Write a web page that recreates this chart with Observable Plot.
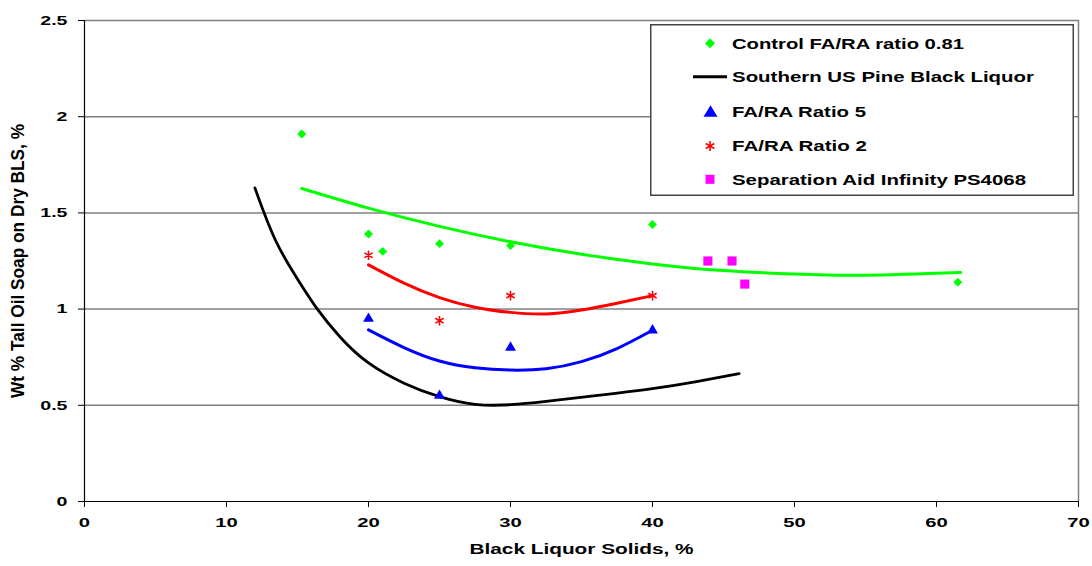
<!DOCTYPE html>
<html><head><meta charset="utf-8">
<script src="https://cdn.jsdelivr.net/npm/d3@7"></script>
<script src="https://cdn.jsdelivr.net/npm/@observablehq/plot@0.6"></script>
<style>
html,body{margin:0;padding:0;background:#fff;}
#wrap{position:relative;width:1092px;height:566px;font-family:"Liberation Sans",Arial,sans-serif;}
#legend{position:absolute;left:650px;top:24px;}
</style></head>
<body><div id="wrap"></div>
<script>
// Scatter series
const controlX = [15.3, 20, 21, 25, 30, 40, 61.5];
const controlY = [1.91, 1.39, 1.30, 1.34, 1.33, 1.44, 1.14];
const ratio5X = [20, 25, 30, 40];
const ratio5Y = [0.95, 0.55, 0.80, 0.89];
const ratio2X = [20, 25, 30, 40];
const ratio2Y = [1.28, 0.94, 1.07, 1.07];
const aidX = [43.9, 45.6, 46.5];
const aidY = [1.25, 1.25, 1.13];
// Fitted curves
const controlFitX = [15.3, 20, 25, 30, 35, 40, 45, 50, 55, 61.7];
const controlFitY = [1.627, 1.525, 1.43, 1.35, 1.285, 1.235, 1.2, 1.182, 1.176, 1.19];
const ratio2FitX = [20, 22.5, 25, 27.5, 30, 32.5, 35, 37.5, 40];
const ratio2FitY = [1.23, 1.135, 1.06, 1.01, 0.983, 0.975, 0.995, 1.03, 1.07];
const ratio5FitX = [20, 22.5, 25, 27.5, 30, 32.5, 35, 37.5, 40];
const ratio5FitY = [0.892, 0.80, 0.73, 0.695, 0.683, 0.69, 0.727, 0.795, 0.89];
const pineX = [12.0, 13.5, 15.2, 16.4, 18, 20, 22.5, 25, 27.5, 30, 32.5, 36, 40, 43, 46.1];
const pineY = [1.63, 1.35, 1.133, 1.0, 0.855, 0.72, 0.615, 0.545, 0.505, 0.503, 0.52, 0.55, 0.587, 0.622, 0.665];
const xTicks = [0, 10, 20, 30, 40, 50, 60, 70];
const yTicks = [0, 0.5, 1, 1.5, 2, 2.5];
const xTitle = "Black Liquor Solids, %";
const yTitle = "Wt % Tall Oil Soap on Dry BLS, %";
const legendLabels = ["Control FA/RA ratio 0.81", "Southern US Pine Black Liquor", "FA/RA Ratio 5", "FA/RA Ratio 2", "Separation Aid Infinity PS4068"];

const zip = (xs, ys) => xs.map((x, i) => ({x, y: ys[i]}));
const FONT = "'Liberation Sans', Arial, sans-serif";

const chart = Plot.plot({
  width: 1092, height: 566,
  marginLeft: 84, marginRight: 14, marginTop: 20, marginBottom: 65,
  style: {fontFamily: FONT, background: "#fff"},
  x: {domain: [0, 70], ticks: xTicks, label: null},
  y: {domain: [0, 2.5], ticks: yTicks, label: null},
  marks: [
    Plot.ruleY(yTicks.filter(d => d > 0), {stroke: "#808080", strokeWidth: 1.5}),
    Plot.ruleX([70], {stroke: "#808080", strokeWidth: 1.5}),
    Plot.ruleX([0], {stroke: "#000", strokeWidth: 1.2}),
    Plot.ruleY([0], {stroke: "#000", strokeWidth: 1.2}),
    Plot.axisY({ticks: yTicks, tickSize: 6, tickPadding: 11, tickFormat: d => String(d), fontSize: 13.5, fontWeight: "bold", stroke: "#000", fill: "#000", label: null}),
    Plot.axisX({ticks: xTicks, tickSize: 6, tickPadding: 10, fontSize: 13.5, fontWeight: "bold", fill: "#000", stroke: "#000", label: null}),
    Plot.text([xTitle], {frameAnchor: "bottom", dy: 52, fontSize: 14, fontWeight: "bold", fill: "#000"}),
    Plot.text([yTitle], {frameAnchor: "left", dx: -66, rotate: -90, textAnchor: "middle", fontSize: 14, fontWeight: "bold", fill: "#000"}),
    Plot.line(zip(pineX, pineY), {x: "x", y: "y", stroke: "#000", strokeWidth: 2.8, curve: "natural"}),
    Plot.line(zip(controlFitX, controlFitY), {x: "x", y: "y", stroke: "#00ff00", strokeWidth: 3, curve: "natural"}),
    Plot.line(zip(ratio2FitX, ratio2FitY), {x: "x", y: "y", stroke: "#ff0000", strokeWidth: 3, curve: "natural"}),
    Plot.line(zip(ratio5FitX, ratio5FitY), {x: "x", y: "y", stroke: "#0000ff", strokeWidth: 3, curve: "natural"}),
    Plot.dot(zip(controlX, controlY), {x: "x", y: "y", symbol: "diamond2", r: 4, fill: "#00ff00", stroke: "none"}),
    Plot.dot(zip(ratio5X, ratio5Y), {x: "x", y: "y", symbol: "triangle2", r: 5.2, fill: "#0000ff", stroke: "none"}),
    Plot.dot(zip(ratio2X, ratio2Y), {x: "x", y: "y", symbol: "asterisk", r: 4.5, stroke: "#ff0000", strokeWidth: 1.5, fill: "none"}),
    Plot.dot(zip(aidX, aidY), {x: "x", y: "y", symbol: "square2", r: 5.8, fill: "#ff00ff", stroke: "none"})
  ]
});
const wrap = document.getElementById("wrap");
wrap.appendChild(chart);

// Reference glyphs are horizontally wide: stretch tick labels about their anchor
function stretch(el, sx, sy) {
  const t = el.getAttribute("transform") || "";
  el.setAttribute("transform", `${t} scale(${sx},${sy})`);
}
d3.select(chart).selectAll("text").each(function() {
  const txt = this.textContent;
  const lab = (this.parentNode.getAttribute && this.parentNode.getAttribute("aria-label")) || "";
  if (txt === xTitle) {
    d3.select(this).attr("textLength", 224).attr("lengthAdjust", "spacingAndGlyphs");
  } else if (txt === yTitle) {
    d3.select(this).attr("textLength", 274).attr("lengthAdjust", "spacingAndGlyphs");
    stretch(this, 1, 1.3);
  } else if (lab.includes("y-axis tick label")) {
    stretch(this, 1.45, 1);
  } else if (lab.includes("x-axis tick label")) {
    stretch(this, 1.5, 1);
  }
});

// Legend (overlaid SVG box inside the plot area)
const lw = 424, lh = 172;
const rowsY = [19.3, 52.7, 87.7, 122, 155.3];
const textX = 82;
const textLens = [232, 302, 134, 135, 294];
const leg = d3.select(wrap).append("svg").attr("id", "legend").attr("width", lw).attr("height", lh);
leg.append("rect").attr("x", 0.75).attr("y", 0.75).attr("width", lw - 1.5).attr("height", lh - 1.5)
  .attr("fill", "#fff").attr("stroke", "#444").attr("stroke-width", 1.5);
const mx = 60;
leg.append("path").attr("d", `M${mx} ${rowsY[0]-5} L${mx+5} ${rowsY[0]} L${mx} ${rowsY[0]+5} L${mx-5} ${rowsY[0]} Z`).attr("fill", "#00ff00");
leg.append("line").attr("x1", 43).attr("x2", 77).attr("y1", rowsY[1]).attr("y2", rowsY[1]).attr("stroke", "#000").attr("stroke-width", 3);
leg.append("path").attr("d", `M${mx+0.5} ${rowsY[2]-6.5} L${mx+7.5} ${rowsY[2]+5} L${mx-6.5} ${rowsY[2]+5} Z`).attr("fill", "#0000ff");
const sg = leg.append("g").attr("stroke", "#ff0000").attr("stroke-width", 1.6);
sg.append("line").attr("x1", mx).attr("x2", mx).attr("y1", rowsY[3]-5).attr("y2", rowsY[3]+5);
sg.append("line").attr("x1", mx-4.3).attr("x2", mx+4.3).attr("y1", rowsY[3]-2.5).attr("y2", rowsY[3]+2.5);
sg.append("line").attr("x1", mx-4.3).attr("x2", mx+4.3).attr("y1", rowsY[3]+2.5).attr("y2", rowsY[3]-2.5);
leg.append("rect").attr("x", mx-4.5).attr("y", rowsY[4]-4.5).attr("width", 9).attr("height", 9).attr("fill", "#ff00ff");
legendLabels.forEach((lab, i) => {
  leg.append("text").attr("x", textX).attr("y", rowsY[i]).attr("dy", "0.36em")
    .attr("font-family", FONT).attr("font-weight", "bold").attr("font-size", 15)
    .attr("textLength", textLens[i]).attr("lengthAdjust", "spacingAndGlyphs")
    .attr("fill", "#000").text(lab);
});
</script>
</body></html>
